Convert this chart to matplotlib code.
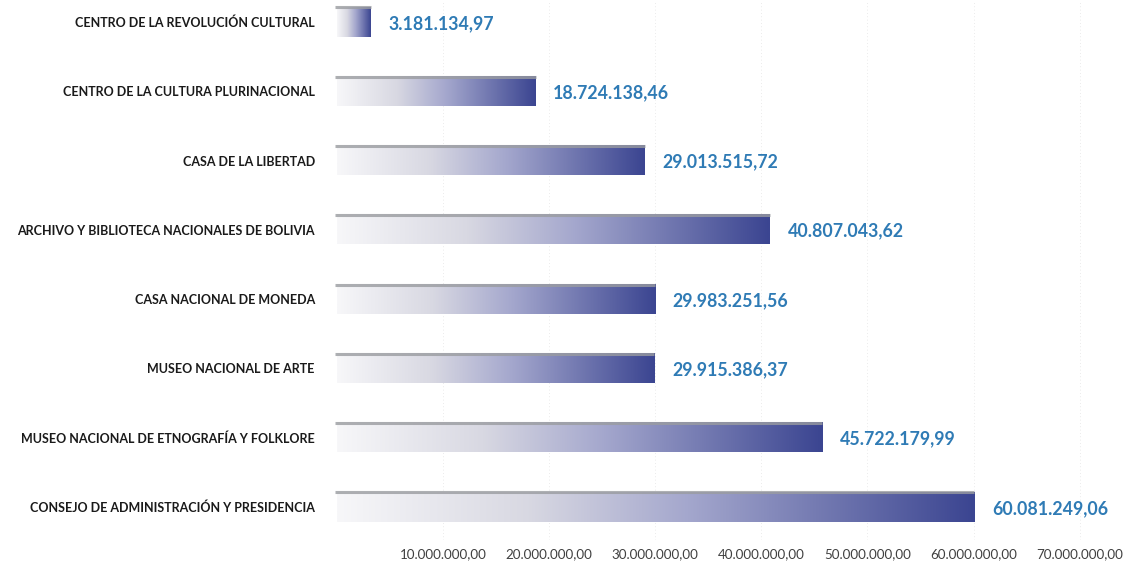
import matplotlib
matplotlib.use("Agg")
import matplotlib.pyplot as plt
import numpy as np
from matplotlib.colors import LinearSegmentedColormap

categories = [
    "CONSEJO DE ADMINISTRACIÓN Y PRESIDENCIA",
    "MUSEO NACIONAL DE ETNOGRAFÍA Y FOLKLORE",
    "MUSEO NACIONAL DE ARTE",
    "CASA NACIONAL DE MONEDA",
    "ARCHIVO Y BIBLIOTECA NACIONALES DE BOLIVIA",
    "CASA DE LA LIBERTAD",
    "CENTRO DE LA CULTURA PLURINACIONAL",
    "CENTRO DE LA REVOLUCIÓN CULTURAL",
]
values = [60081249.06, 45722179.99, 29915386.37, 29983251.56,
          40807043.62, 29013515.72, 18724138.46, 3181134.97]
value_labels = ["60.081.249,06", "45.722.179,99", "29.915.386,37", "29.983.251,56",
                "40.807.043,62", "29.013.515,72", "18.724.138,46", "3.181.134,97"]
tick_values = [10e6, 20e6, 30e6, 40e6, 50e6, 60e6, 70e6]
tick_labels = ["10.000.000,00", "20.000.000,00", "30.000.000,00", "40.000.000,00",
               "50.000.000,00", "60.000.000,00", "70.000.000,00"]

plt.rcParams['font.family'] = ['Lato', 'DejaVu Sans']

W, H = 1136, 570
fig = plt.figure(figsize=(W / 100, H / 100), dpi=100)
ax = fig.add_axes([337 / W, 30 / H, (1085 - 337) / W, 540 / H])

cmap = LinearSegmentedColormap.from_list(
    "grad", [(0.0, "#f7f7f9"), (0.3, "#d8d8e2"), (0.55, "#a4a7cd"), (1.0, "#3b4591")])
grad = np.linspace(0, 1, 256).reshape(1, -1)

bar_h = 0.42
y = np.arange(len(categories))
for yi, v in zip(y, values):
    ax.imshow(grad, cmap=cmap, aspect="auto", interpolation="bilinear",
              extent=[0, v, yi - bar_h / 2, yi + bar_h / 2], zorder=2)
    ax.plot([-0.2e6, v], [yi + bar_h / 2, yi + bar_h / 2], color="#9a9ca0",
            lw=2.2, alpha=0.8, solid_capstyle="butt", zorder=3, clip_on=False)

for yi, v, lab in zip(y, values, value_labels):
    ax.text(v + 1.65e6, yi - 0.02, lab, ha="left", va="center", fontsize=12.8,
            fontweight="bold", color="#2f7bb5", zorder=4)

ax.set_xlim(0, 70.5e6)
ax.set_ylim(-0.476, 7.317)
ax.set_yticks(y)
ax.set_yticklabels(categories, fontsize=9, fontweight="bold", color="#1a1a1a")
ax.set_xticks(tick_values)
ax.set_xticklabels(tick_labels, fontsize=9.6, color="#404040")
ax.tick_params(axis="both", length=0)
ax.tick_params(axis="y", pad=16)
ax.tick_params(axis="x", pad=6)
for s in ax.spines.values():
    s.set_visible(False)
ax.grid(axis="x", color="#e4e4e4", lw=0.6, ls=(0, (1, 3)), zorder=0)
ax.set_axisbelow(True)

fig.savefig("out.png", dpi=100, facecolor="white")
